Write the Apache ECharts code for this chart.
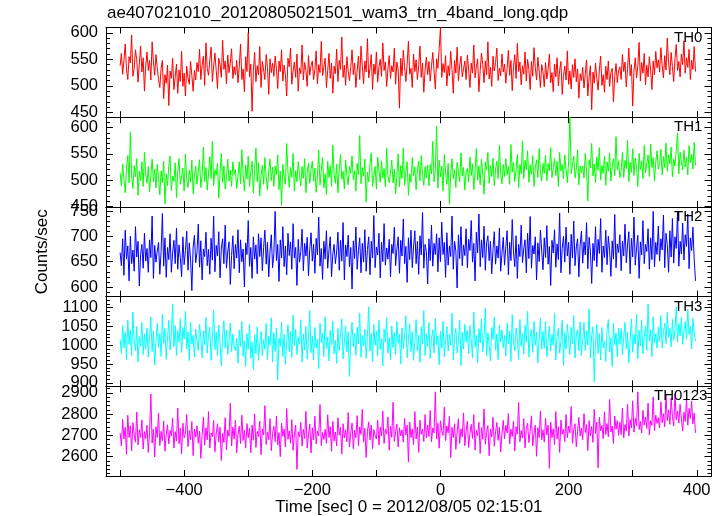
<!DOCTYPE html>
<html><head><meta charset="utf-8">
<script src="https://cdn.jsdelivr.net/npm/echarts@6/dist/echarts.min.js"></script>
<style>html,body{margin:0;padding:0;background:#fff}#c{width:723px;height:516px}</style>
</head><body><div id="c"></div>
<script>
const tStart = -500, tStep = 2;
const titleText = 'ae407021010_20120805021501_wam3_trn_4band_long.qdp';
const xName = 'Time [sec] 0 = 2012/08/05 02:15:01';
const yName = 'Counts/sec';
const panelNames = ['TH0','TH1','TH2','TH3','TH0123'];

const th0 = [
538,561,522,547,579,530,512,555,543,596,518,533,568,549,507,541,575,526,553,490,537,564,529,548,511,583,545,520,559,534,
512,497,533,548,476,521,505,539,463,528,514,552,493,517,541,486,530,508,565,499,524,481,537,515,503,546,520,490,529,511,
544,527,569,512,538,556,501,581,533,520,549,573,508,537,562,529,495,552,540,516,586,531,547,504,558,525,543,570,514,536,
521,548,506,537,579,512,532,489,555,527,600,517,541,452,529,563,508,538,521,574,497,546,530,512,559,535,484,551,525,543,
518,556,533,495,547,527,568,509,539,521,481,552,536,571,503,528,545,516,560,490,534,523,577,511,544,529,499,557,520,538,
547,512,531,566,504,540,525,584,519,535,552,497,529,561,514,543,486,537,523,569,508,548,531,592,516,539,501,555,528,510,
535,568,521,543,497,529,556,512,575,538,504,547,526,589,515,533,559,493,541,522,564,507,536,550,518,581,529,545,499,532,
557,514,538,526,571,503,545,530,458,552,519,567,536,508,541,584,522,533,497,560,527,549,512,538,575,516,543,488,530,554,
521,546,509,537,563,528,494,551,533,570,610,516,542,525,557,500,538,519,565,531,486,548,524,573,510,539,556,517,532,547,
512,558,530,497,543,524,577,515,536,551,489,529,562,540,506,547,521,583,513,535,499,556,528,544,571,510,533,519,560,526,
541,505,533,567,520,548,491,536,559,514,580,527,545,502,538,522,564,509,550,531,493,546,518,572,535,511,554,528,497,540,
527,498,544,513,531,560,506,525,489,541,517,553,500,529,546,484,520,537,511,566,503,528,494,540,516,551,508,532,477,523,
510,535,496,522,549,481,517,538,455,526,505,543,514,492,530,556,501,521,488,537,512,547,499,525,533,470,518,542,506,529,
536,512,559,527,545,498,533,571,519,540,462,528,553,515,537,582,509,544,524,561,502,539,517,555,530,493,547,521,565,534,
549,526,572,538,515,557,530,590,544,521,563,536,508,551,578,529,546,517,560,540,585,524,553,535,569,512,548,531,574,527
];
const th1 = [
514,489,531,502,476,523,547,495,592,510,484,528,506,541,471,517,499,535,488,553,512,494,526,478,509,540,497,521,485,530,
503,472,518,495,536,455,512,489,527,546,480,508,498,533,467,515,541,492,506,523,479,550,501,486,519,496,538,474,510,527,
492,517,539,486,508,563,497,524,481,512,545,503,574,490,520,509,532,466,514,551,495,527,483,506,540,498,519,488,535,511,
520,484,507,535,493,558,511,479,529,502,546,488,517,536,475,522,561,497,533,470,509,528,492,543,506,481,518,540,499,525,
488,527,510,548,482,517,452,530,505,492,570,514,486,524,506,551,479,518,497,535,511,489,526,503,541,476,515,532,494,520,
536,498,523,477,508,557,491,519,543,485,512,472,536,505,528,488,567,511,494,530,476,521,549,502,517,483,538,509,491,526,
513,546,501,518,479,532,510,585,493,524,507,540,458,515,497,531,552,488,509,526,483,544,519,496,537,504,522,487,561,508,
495,514,538,495,521,474,509,550,487,528,503,561,490,517,535,471,512,496,543,508,525,482,519,536,499,547,511,490,526,504,
529,489,530,512,574,497,520,603,485,538,506,527,479,549,514,492,532,454,510,541,503,520,486,534,515,497,552,508,524,481,
516,522,496,544,509,531,482,518,560,500,527,491,540,512,473,535,519,553,494,528,507,542,489,521,536,503,566,511,493,530,
507,541,510,526,492,568,515,534,497,521,549,486,530,512,575,503,538,520,556,496,529,511,547,488,524,539,505,560,516,498,
532,513,547,499,532,518,562,505,524,541,509,536,488,553,517,530,502,548,521,495,537,625,512,529,546,504,520,558,491,527,
514,527,504,551,518,460,539,523,570,508,531,495,544,519,562,500,528,513,546,490,535,517,552,498,526,541,509,583,520,537,
505,518,553,505,538,522,576,497,534,515,560,509,542,525,488,551,520,537,503,566,514,531,548,507,569,524,543,498,535,556,
521,532,559,510,545,524,571,517,548,531,563,506,540,527,556,590,512,553,536,519,557,525,544,510,566,533,549,521,572,528
];
const th2 = [
668,642,695,623,712,655,681,612,700,646,673,631,719,659,690,602,664,684,637,706,651,676,629,693,658,740,617,682,649,671,
688,625,670,745,641,697,619,678,654,705,629,667,692,646,716,635,683,658,620,699,644,672,710,633,687,655,593,679,702,648,
668,724,639,691,614,675,660,708,642,674,625,696,653,740,630,682,661,709,618,677,695,646,722,637,669,689,605,662,701,636,
684,657,713,628,693,650,675,600,687,664,731,641,678,617,699,655,683,626,705,660,697,632,678,712,645,688,620,671,703,638,
666,749,652,684,611,693,657,719,640,681,624,706,662,689,635,725,657,678,603,694,649,670,714,632,686,661,698,622,675,707,
651,684,627,696,663,738,641,676,615,690,655,711,637,673,699,620,665,684,646,669,708,633,692,651,727,614,683,660,702,640,
678,596,691,656,718,635,672,697,628,686,649,713,631,674,699,624,690,657,741,638,679,663,706,618,688,650,725,643,677,655,
694,620,684,666,718,642,675,699,627,692,661,734,646,680,609,697,654,712,638,679,711,646,690,625,701,663,747,637,684,670,
606,695,652,722,641,686,664,705,630,697,650,728,664,688,619,707,643,681,660,740,635,690,671,598,703,656,719,642,683,662,
715,638,694,672,731,649,686,612,708,667,744,640,693,658,720,633,687,701,652,690,626,674,709,645,681,657,716,631,667,698,
643,679,711,624,688,652,733,669,640,701,617,684,660,722,648,675,693,628,706,656,739,637,682,665,699,614,687,650,712,671,
634,697,658,721,645,680,603,692,667,713,639,685,654,746,628,676,700,649,718,661,688,625,704,657,730,642,679,695,620,683,
710,647,689,663,727,636,698,671,607,686,652,719,640,694,666,735,629,681,658,712,644,700,673,621,691,655,743,638,685,668,
703,632,690,661,724,648,683,709,626,696,659,738,643,677,702,617,689,663,731,646,684,670,715,635,697,654,749,640,688,664,
720,651,695,673,742,638,706,684,629,711,659,735,647,699,676,748,641,690,665,726,653,703,680,744,636,697,672,718,655,612
];
const th3 = [
1015,978,1052,993,1034,961,1067,1002,1041,972,1088,1008,985,1049,956,1023,997,1060,975,1030,990,1046,968,1021,1075,983,1037,947,1012,1058,
994,1031,970,1082,1005,1044,962,1019,1066,987,1028,1110,996,1052,973,1039,1008,1071,981,1047,1016,1090,990,1035,959,1061,1003,1026,968,1043,
1012,985,1056,1020,967,1038,1001,1074,979,1029,1048,960,1017,1093,988,1035,972,1053,1006,945,1024,1065,992,1040,976,1011,1059,983,1030,998,
985,1018,952,1040,997,1063,970,1012,944,1031,989,1056,965,1009,935,1027,978,1049,960,1004,1037,972,1015,990,1058,961,1024,1001,1073,956,
1033,984,1046,908,1019,995,1062,970,1029,949,1011,1054,983,1036,967,1080,999,1042,975,1021,1003,1067,955,1030,988,1050,963,1017,1092,980,
1025,961,1047,993,1015,938,1058,1006,1033,970,1075,991,1022,958,1040,1001,1064,977,1013,952,1044,986,1027,1070,964,1009,1051,982,1036,917,
1019,1061,996,1032,973,1048,1004,1085,968,1026,998,1042,965,1023,1102,984,1031,957,1055,1000,1038,971,1066,989,1017,945,1043,1008,1073,979,
1020,961,1051,994,1034,975,1063,1005,1029,950,1046,991,1024,1078,967,1015,1057,983,1036,960,1009,1068,985,1027,955,1049,1003,1092,972,1031,
996,1060,964,1018,1041,980,1071,1000,1025,948,1037,992,1063,969,1012,1050,984,1029,1000,1085,961,1023,1045,979,1010,1067,946,1034,990,1056,
1008,1039,977,1052,1014,966,1088,995,1027,953,1044,1006,1070,982,1021,1099,972,1033,1001,958,1047,1016,1075,987,1030,962,1054,1009,1040,993,
1026,971,1059,1003,1038,957,1081,1011,985,1046,1019,962,1068,997,1032,976,1053,1007,1090,968,1024,1042,981,1063,1000,1035,953,1017,1071,989,
1037,992,1063,969,1012,1050,984,1029,1000,1085,961,1023,1045,979,1010,1067,946,1034,990,1056,1015,975,1048,1004,1079,966,1027,1041,985,1062,
972,1018,1060,985,1037,1000,1096,966,1026,1049,903,1012,1055,978,1031,961,1047,993,1011,957,1039,1068,982,1020,944,1058,1001,1033,969,1045,
1003,1044,975,1022,1061,990,1035,953,1014,1070,981,1028,1003,1082,964,1039,998,1066,977,1023,1050,986,1109,1012,1041,969,1075,1006,1030,992,
1048,1010,1079,992,1036,1058,1004,1087,1021,1045,995,1069,1013,1040,1102,1008,1057,1025,1074,1002,1038,1063,1016,1095,1029,1051,990,1071,1033,1011
];
const th0123 = [
2712,2650,2775,2683,2738,2611,2795,2690,2745,2628,2760,2701,2668,2810,2655,2727,2690,2773,2636,2718,2685,2748,2620,2712,2895,2664,2730,2598,2741,2690,
2806,2652,2719,2675,2768,2626,2703,2750,2660,2724,2697,2782,2641,2718,2673,2829,2660,2735,2614,2757,2688,2709,2798,2647,2723,2680,2765,2605,2730,2692,
2745,2663,2720,2592,2701,2786,2654,2736,2679,2812,2641,2711,2694,2770,2623,2707,2755,2669,2738,2582,2710,2667,2783,2632,2725,2696,2851,2650,2739,2684,
2772,2618,2705,2743,2661,2795,2676,2724,2640,2756,2689,2733,2618,2748,2677,2801,2643,2719,2695,2767,2609,2731,2702,2840,2657,2715,2680,2779,2628,2709,
2742,2671,2790,2655,2713,2600,2758,2696,2730,2645,2826,2682,2721,2663,2774,2630,2706,2749,2540,2717,2693,2761,2650,2729,2685,2813,2640,2702,2754,2617,
2736,2679,2790,2660,2721,2697,2845,2652,2714,2681,2728,2663,2797,2690,2741,2625,2766,2674,2716,2650,2783,2701,2738,2612,2755,2688,2726,2669,2808,2645,
2711,2758,2637,2724,2689,2793,2651,2740,2705,2822,2668,2733,2596,2718,2764,2679,2749,2638,2727,2700,2683,2772,2654,2739,2697,2815,2662,2728,2706,2786,
2630,2744,2691,2856,2672,2719,2753,2645,2736,2698,2726,2668,2780,2702,2748,2575,2763,2690,2731,2657,2812,2684,2740,2620,2772,2705,2729,2671,2798,2688,
2749,2695,2817,2670,2735,2712,2905,2683,2757,2640,2769,2721,2700,2833,2676,2745,2712,2790,2596,2738,2690,2755,2634,2716,2779,2662,2731,2694,2806,2651,
2720,2767,2643,2709,2752,2686,2798,2631,2724,2699,2761,2615,2737,2682,2824,2658,2713,2746,2604,2730,2693,2785,2649,2718,2761,2677,2739,2622,2708,2771,
2684,2747,2712,2803,2660,2729,2695,2768,2627,2741,2706,2855,2670,2723,2688,2779,2641,2734,2757,2666,2719,2792,2650,2710,2748,2602,2736,2690,2815,2679,
2726,2668,2780,2702,2748,2545,2763,2690,2731,2657,2812,2684,2740,2620,2772,2705,2729,2671,2798,2688,2744,2712,2836,2663,2728,2755,2646,2719,2785,2697,
2735,2680,2802,2714,2751,2629,2770,2698,2742,2667,2823,2709,2763,2548,2785,2721,2747,2685,2811,2704,2756,2693,2869,2716,2744,2662,2791,2729,2770,2700,
2762,2704,2829,2688,2751,2720,2846,2697,2774,2735,2863,2716,2780,2744,2905,2728,2765,2711,2818,2749,2787,2733,2852,2702,2769,2748,2881,2722,2795,2756,
2783,2735,2858,2760,2802,2741,2890,2769,2820,2752,2876,2790,2744,2897,2773,2815,2758,2846,2781,2720,2809,2765,2873,2748,2827,2779,2862,2754,2805,2712
];

const xTicks = [-500,-400,-300,-200,-100,0,100,200,300,400];
const xLabels = [-400,-200,0,200,400];
const yMajor = [
  [450,500,550,600],
  [450,500,550,600],
  [600,650,700,750],
  [900,950,1000,1050,1100],
  [2600,2700,2800,2900]
];
const yMinorStep = [10,10,10,10,20];
const yMins = [441,449,581,891,2509];
const yMaxs = [610,620,758,1129,2931];
const xMin = -522, xMax = 423;

const seriesValues = [th0, th1, th2, th3, th0123];
const colors = ['#ff0000','#00ff00','#0000ff','#00ffff','#ff00ff'];
const FONT = "'Liberation Sans', Arial, Helvetica, sans-serif";

const grids = [], xAxes = [], yAxes = [], series = [];
const gTop = 27.5, gH = 89.7;
for (let i = 0; i < 5; i++) {
  grids.push({left:106, right:11.5, top:gTop + i*gH, height:gH, containLabel:false, outerBoundsMode:'none'});
  const axLine = {show:true, onZero:false, lineStyle:{color:'#000', width:1}};
  const tickStyle = {color:'#000', width:1};
  const fmt = v => String(v).replace('-', '\u2212');
  xAxes.push({type:'value', gridIndex:i, min:xMin, max:xMax, position:'bottom',
    axisLine:axLine, splitLine:{show:false},
    axisTick:{show:true, inside:true, length:6, customValues:xTicks, lineStyle:tickStyle},
    axisLabel:{show:i===4, customValues:xLabels, formatter:fmt, color:'#000', fontSize:16.5, fontFamily:FONT, margin:6}
  });
  xAxes.push({type:'value', gridIndex:i, min:xMin, max:xMax, position:'top',
    axisLine:axLine, splitLine:{show:false},
    axisTick:{show:true, inside:true, length:6, customValues:xTicks, lineStyle:tickStyle},
    axisLabel:{show:false}
  });
  const minor = [];
  for (let v = yMajor[i][0] - yMinorStep[i]*Math.floor((yMajor[i][0]-yMins[i])/yMinorStep[i]); v <= yMaxs[i]; v += yMinorStep[i]) {
    if (v >= yMins[i]) minor.push(v);
  }
  const baseY = {type:'value', gridIndex:i, min:yMins[i], max:yMaxs[i], splitLine:{show:false}, axisLine:axLine};
  yAxes.push(Object.assign({}, baseY, {position:'left',
    axisTick:{show:true, inside:true, length:7, customValues:yMajor[i], lineStyle:tickStyle},
    axisLabel:{show:true, customValues:yMajor[i], formatter:v => String(v), color:'#000', fontSize:16.5, fontFamily:FONT, margin:8}}));
  yAxes.push(Object.assign({}, baseY, {position:'left',
    axisTick:{show:true, inside:true, length:4, customValues:minor, lineStyle:tickStyle},
    axisLabel:{show:false}}));
  yAxes.push(Object.assign({}, baseY, {position:'right',
    axisTick:{show:true, inside:true, length:7, customValues:yMajor[i], lineStyle:tickStyle},
    axisLabel:{show:false}}));
  yAxes.push(Object.assign({}, baseY, {position:'right',
    axisTick:{show:true, inside:true, length:4, customValues:minor, lineStyle:tickStyle},
    axisLabel:{show:false}}));
  const vals = seriesValues[i];
  series.push({type:'line', xAxisIndex:2*i, yAxisIndex:4*i, showSymbol:false, symbol:'none',
    sampling:null, clip:true, animation:false,
    lineStyle:{color:colors[i], width:1}, itemStyle:{color:colors[i]},
    data: vals.map((v, k) => [tStart + k*tStep, v])});
}

const panelLabelX = [674, 674, 674, 674, 654];
const graphic = [
  {type:'text', left:107, top:5, style:{text:titleText, font:'17px ' + FONT, fill:'#000'}},
  {type:'text', x:408.9, y:507, style:{text:xName, font:'17px ' + FONT, fill:'#000', align:'center', verticalAlign:'middle'}},
  {type:'text', x:42, y:251.8, rotation:Math.PI/2, style:{text:yName, font:'17px ' + FONT, fill:'#000', align:'center', verticalAlign:'middle'}}
];
for (let i = 0; i < 5; i++) {
  graphic.push({type:'text', x:panelLabelX[i], y:gTop + i*gH + 10, z:100,
    style:{text:panelNames[i], font:'15px ' + FONT, fill:'#000', verticalAlign:'middle'}});
}

const chart = echarts.init(document.getElementById('c'), null, {renderer:'canvas'});
chart.setOption({animation:false, backgroundColor:'#fff', grid:grids, xAxis:xAxes, yAxis:yAxes, series:series, graphic:graphic});
</script></body></html>
